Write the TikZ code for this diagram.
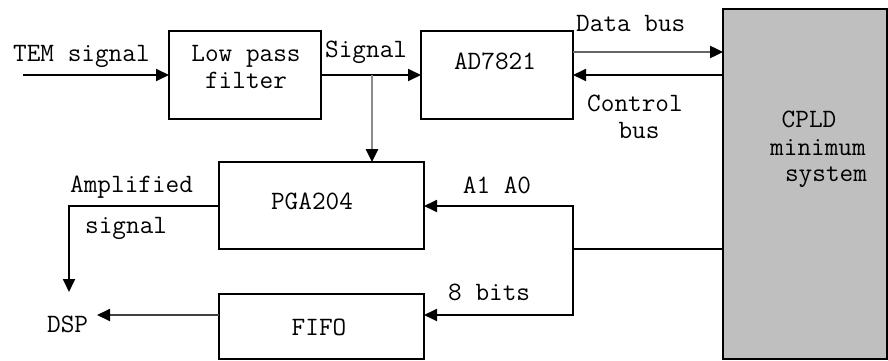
\documentclass[tikz,border=0pt]{standalone}
\usetikzlibrary{arrows.meta}
\begin{document}
\begin{tikzpicture}[x=1pt,y=-1pt,
  box/.style={draw=black,line width=1.8pt},
  lbl/.style={font=\fontsize{26.5}{27}\ttfamily,anchor=base west,inner sep=0pt},
  lblc/.style={font=\fontsize{26.5}{27}\ttfamily,anchor=base,inner sep=0pt},
  wire/.style={line width=1.8pt,draw=black},
  arr/.style={wire,-{Triangle[length=13pt,width=12pt,color=black]}}]
\useasboundingbox (0,0) rectangle (888,361);
% boxes
\path[box] (169,31) rectangle (321,119);
\path[box] (421,31) rectangle (573,119);
\path[box] (219,162) rectangle (424,249);
\path[box] (219,294) rectangle (424,359);
\path[draw=black,line width=1.8pt,fill=black!25] (723,9) rectangle (887,359);
\coordinate (lpfW) at (169,75);
\coordinate (lpfE) at (321,75);
\coordinate (adW) at (421,75);
\coordinate (adE1) at (573,52);
\coordinate (adE2) at (573,75);
\coordinate (cpW1) at (723,52);
\coordinate (cpW2) at (723,75);
\coordinate (cpW3) at (723,249);
\coordinate (tem) at (23,75);
\coordinate (br) at (372,75);
\coordinate (pgaN) at (372,162);
\coordinate (pgaE) at (424,206);
\coordinate (pgaW) at (219,206);
\coordinate (fifoE) at (424,315);
\coordinate (fifoW) at (219,315);
\coordinate (jn) at (573,249);
\coordinate (dsp) at (97,315);
% connectors
\draw[arr] (tem) -- (lpfW);
\draw[arr] (lpfE) -- (adW);
\draw[arr,line width=2.6pt,draw=black!45] (br) -- (pgaN);
\draw[arr,line width=2.4pt,draw=black!60] (adE1) -- (cpW1);
\draw[arr] (cpW2) -- (adE2);
\draw[wire] (cpW3) -- (jn);
\draw[arr] (jn) |- (pgaE);
\draw[arr] (jn) |- (fifoE);
\draw[arr] (pgaW) -| (69,292);
\draw[arr,draw=black!75] (fifoW) -- (dsp);
% labels
\node[lbl] at (13,62) {TEM signal};
\node[lblc] at (246,62) {Low pass};
\node[lblc] at (246,88) {filter};
\node[lbl] at (325,57) {Signal};
\node[lblc] at (495,70) {AD7821};
\node[lbl] at (576,32) {Data bus};
\node[lbl] at (587,111) {Control};
\node[lblc] at (639,138) {bus};
\node[lblc] at (809,127) {CPLD};
\node[lblc] at (818,155) {minimum};
\node[lblc] at (826,181) {system};
\node[lblc] at (497,193) {A1 A0};
\node[lbl] at (448,300) {8 bits};
\node[lbl] at (70,192) {Amplified};
\node[lbl] at (85,233) {signal};
\node[lblc] at (312,209) {PGA204};
\node[lblc] at (319,335) {FIFO};
\node[lbl] at (47,332) {DSP};
\end{tikzpicture}
\end{document}
